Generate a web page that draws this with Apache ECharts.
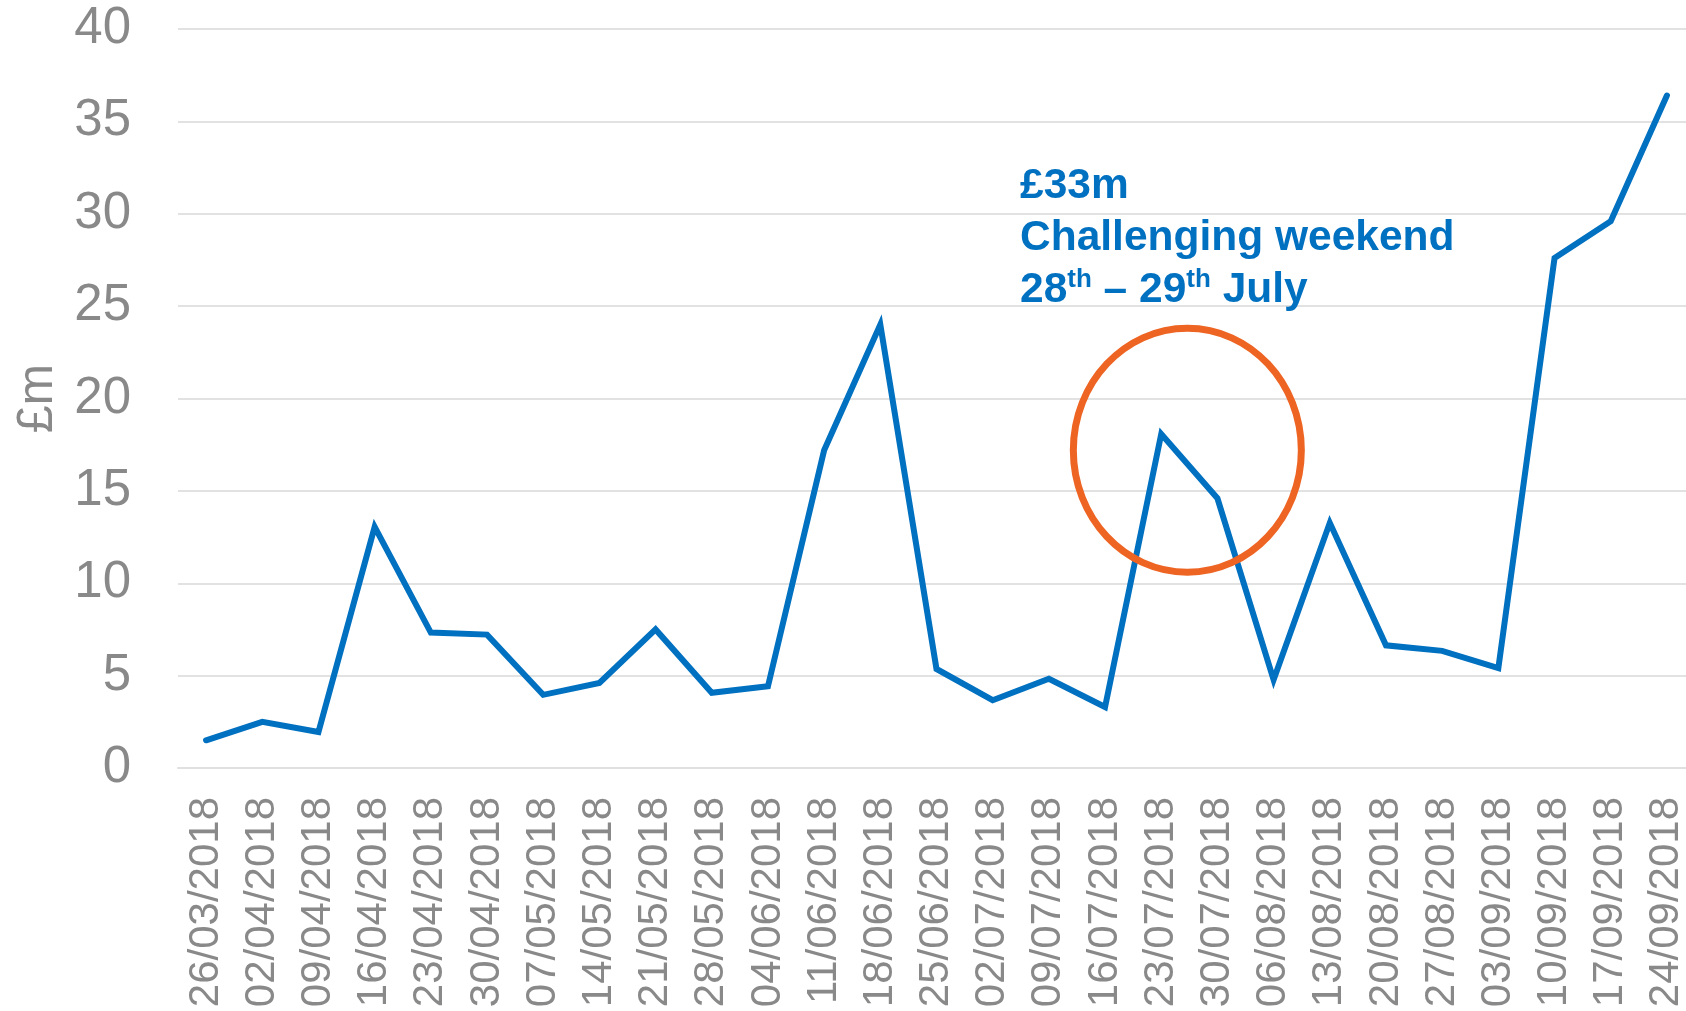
<!DOCTYPE html>
<html>
<head>
<meta charset="utf-8">
<script src="https://cdn.jsdelivr.net/npm/echarts@6/dist/echarts.min.js"></script>
<style>
  html, body { margin: 0; padding: 0; background: #ffffff; }
  #chart { width: 1686px; height: 1011px; }
</style>
</head>
<body>
<div id="chart"></div>
<script>
var weeks = ['26/03/2018', '02/04/2018', '09/04/2018', '16/04/2018', '23/04/2018', '30/04/2018',
  '07/05/2018', '14/05/2018', '21/05/2018', '28/05/2018', '04/06/2018', '11/06/2018',
  '18/06/2018', '25/06/2018', '02/07/2018', '09/07/2018', '16/07/2018', '23/07/2018',
  '30/07/2018', '06/08/2018', '13/08/2018', '20/08/2018', '27/08/2018', '03/09/2018',
  '10/09/2018', '17/09/2018', '24/09/2018']
var amounts = [1.5, 2.5, 1.95, 13.05, 7.33, 7.22, 3.96, 4.6, 7.5, 4.07, 4.42, 17.2,
  24.0, 5.36, 3.67, 4.83, 3.3, 18.08, 14.6, 4.77, 13.27, 6.64, 6.34, 5.41,
  27.6, 29.6, 36.4]
// circled weekend sits between these two weeks
var circledWeeks = ['23/07/2018', '30/07/2018']
var circledValue = 17.2

var font = 'Liberation Sans, Arial, sans-serif'
var blue = '#0070C0'
var grey = '#898989'

var myChart = echarts.init(document.getElementById('chart'))

var option = {
  animation: false,
  grid: {
    left: 178,
    right: -9,
    top: 29,
    bottom: 243,
    containLabel: false,
    outerBoundsMode: 'none'
  },
  xAxis: {
    type: 'category',
    data: weeks,
    boundaryGap: true,
    axisLine: { lineStyle: { color: '#e0e0e0', width: 2 } },
    axisTick: { show: false },
    axisLabel: {
      rotate: 90,
      margin: 29,
      interval: 0,
      color: grey,
      fontSize: 42,
      fontFamily: font
    }
  },
  yAxis: {
    type: 'value',
    min: 0,
    max: 40,
    interval: 5,
    name: '£m',
    nameLocation: 'middle',
    nameGap: 115,
    nameTextStyle: { color: grey, fontSize: 50, fontFamily: font },
    axisLine: { show: false },
    axisTick: { show: false },
    splitLine: { lineStyle: { color: '#e2e2e2', width: 2 } },
    axisLabel: {
      margin: 47,
      color: grey,
      fontSize: 51,
      fontFamily: font
    }
  },
  series: [
    {
      type: 'line',
      data: amounts,
      symbol: 'none',
      lineStyle: { color: blue, width: 6, cap: 'round', join: 'miter' }
    }
  ]
}
myChart.setOption(option)

var p1 = myChart.convertToPixel({ seriesIndex: 0 }, [circledWeeks[0], circledValue])
var p2 = myChart.convertToPixel({ seriesIndex: 0 }, [circledWeeks[1], circledValue])

myChart.setOption({
  graphic: [
    {
      type: 'ellipse',
      shape: { cx: (p1[0] + p2[0]) / 2 - 2, cy: p1[1], rx: 114, ry: 122 },
      style: { fill: 'none', stroke: '#EE6423', lineWidth: 7 },
      z: 10
    },
    {
      type: 'text',
      x: 1020,
      y: 160,
      z: 10,
      style: {
        text: '{b|£33m}\n{b|Challenging weekend}\n{b|28}{s|th}{b| – 29}{s|th}{b| July}',
        fontFamily: font,
        rich: {
          b: { fontSize: 42.5, fontWeight: 'bold', fill: blue, lineHeight: 52, fontFamily: font },
          s: { fontSize: 26, fontWeight: 'bold', fill: blue, lineHeight: 52, verticalAlign: 'top', padding: [3, 0, 0, 0], fontFamily: font }
        }
      }
    }
  ]
})
</script>
</body>
</html>
